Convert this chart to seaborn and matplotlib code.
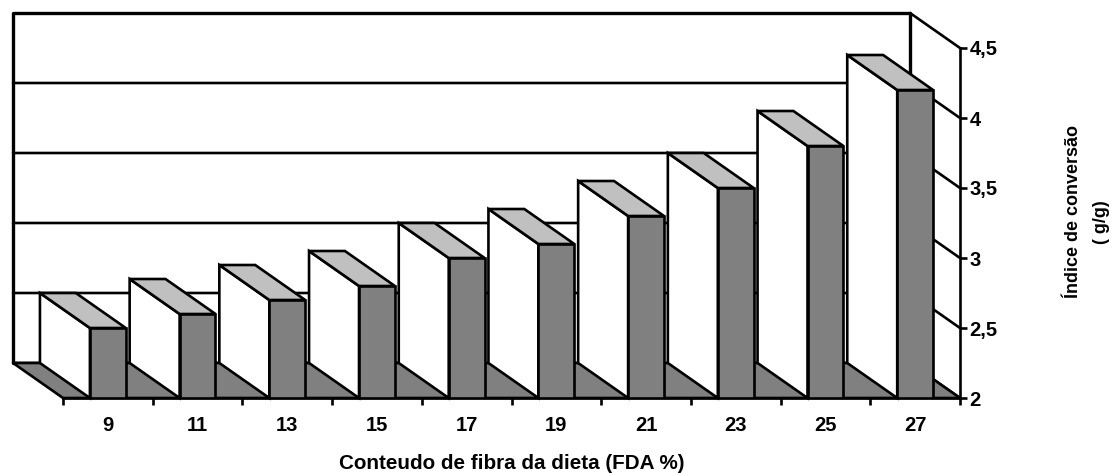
#!/usr/bin/env python3
"""Fake 3D column chart: conversion index against dietary fibre content."""

import pandas as pd
import matplotlib
matplotlib.use("Agg")
import matplotlib.pyplot as plt
import seaborn as sns

# chart data
fibre_levels = ['9', '11', '13', '15', '17', '19', '21', '23', '25', '27']
conversion_index = [2.5, 2.6, 2.7, 2.8, 3.0, 3.1, 3.3, 3.5, 3.8, 4.2]
value_ticks = [2, 2.5, 3, 3.5, 4, 4.5]
value_tick_labels = ['2', '2,5', '3', '3,5', '4', '4,5']

# oblique projection offset, in data units
DEPTH_X = 0.557
DEPTH_Y = 0.25
LW = 1.9

sns.set_theme(style="white")
plt.rcParams['font.family'] = ['Liberation Sans', 'DejaVu Sans']

df = pd.DataFrame({'fibre': fibre_levels, 'index': conversion_index})

W, H = 1113, 473
fig = plt.figure(figsize=(W / 100, H / 100), dpi=100)
ax = fig.add_axes([63 / W, (H - 398) / H, (960 - 63) / W, 350 / H])

sns.barplot(data=df, x='fibre', y='index', ax=ax, color='#808080', saturation=1,
            width=0.4, edgecolor='black', linewidth=LW, zorder=5)

xmin, xmax = -0.5, len(fibre_levels) - 0.5
ymin, ymax = value_ticks[0], value_ticks[-1]
ax.set_xlim(xmin, xmax)
ax.set_ylim(ymin, ymax)

# floor, back wall and the gridlines running over it
ax.fill([xmin, xmax, xmax - DEPTH_X, xmin - DEPTH_X],
        [ymin, ymin, ymin + DEPTH_Y, ymin + DEPTH_Y],
        facecolor='#808080', edgecolor='black', linewidth=LW, clip_on=False, zorder=2)
for v in value_ticks[:-1]:
    ax.plot([xmin - DEPTH_X, xmax - DEPTH_X, xmax], [v + DEPTH_Y, v + DEPTH_Y, v],
            color='black', lw=LW, clip_on=False, zorder=1)
ax.plot([xmax - DEPTH_X, xmax], [ymax + DEPTH_Y, ymax], color='black', lw=LW, clip_on=False, zorder=1)
ax.plot([xmin - DEPTH_X, xmin - DEPTH_X, xmax - DEPTH_X, xmax - DEPTH_X],
        [ymin + DEPTH_Y, ymax + DEPTH_Y, ymax + DEPTH_Y, ymin + DEPTH_Y],
        color='black', lw=2.4, clip_on=False, zorder=1)

# side and top faces of each column, worked out from the bars seaborn drew
for bar, val in zip(ax.patches, conversion_index):
    x0 = bar.get_x()
    x1 = x0 + bar.get_width()
    ax.fill([x0, x0 - DEPTH_X, x0 - DEPTH_X, x0],
            [val, val + DEPTH_Y, ymin + DEPTH_Y, ymin],
            facecolor='white', edgecolor='black', linewidth=LW, clip_on=False, zorder=3)
    ax.fill([x0, x1, x1 - DEPTH_X, x0 - DEPTH_X],
            [val, val, val + DEPTH_Y, val + DEPTH_Y],
            facecolor='#C0C0C0', edgecolor='black', linewidth=LW, clip_on=False, zorder=4)

# axes
for side in ['top', 'left']:
    ax.spines[side].set_visible(False)
for side in ['bottom', 'right']:
    ax.spines[side].set_linewidth(LW)
    ax.spines[side].set_color('black')
    ax.spines[side].set_zorder(6)

ax.yaxis.tick_right()
ax.set_yticks(value_ticks, value_tick_labels, fontsize=14.5, fontweight='bold')
ax.set_xticks(range(len(fibre_levels)), fibre_levels, fontsize=14.5, fontweight='bold')
ax.set_xticks([i - 0.5 for i in range(len(fibre_levels) + 1)], minor=True)
ax.tick_params(axis='x', which='major', length=0, pad=13, colors='black')
ax.tick_params(axis='x', which='minor', bottom=True, length=5, width=LW, color='black')
ax.tick_params(axis='y', right=True, left=False, length=5, width=LW, pad=2, colors='black')

ax.set_xlabel('Conteudo de fibra da dieta (FDA %)', fontsize=14.9, fontweight='bold',
              va='center', color='black')
ax.xaxis.set_label_coords(0.5, -0.188)
ax.yaxis.set_label_position('right')
ax.set_ylabel('Índice de conversão', fontsize=13, fontweight='bold', color='black',
              rotation=90, ha='center', va='center')
ax.yaxis.set_label_coords((1074 - 63) / 897, 0.533)
# second line sits lower than the centre of the first, so it gets its own text
fig.text(1101 / W, (H - 222) / H, '( g/g)', fontsize=13, fontweight='bold', color='black',
         rotation=90, ha='center', va='center')

fig.savefig('out.png', dpi=100)
plt.close(fig)
